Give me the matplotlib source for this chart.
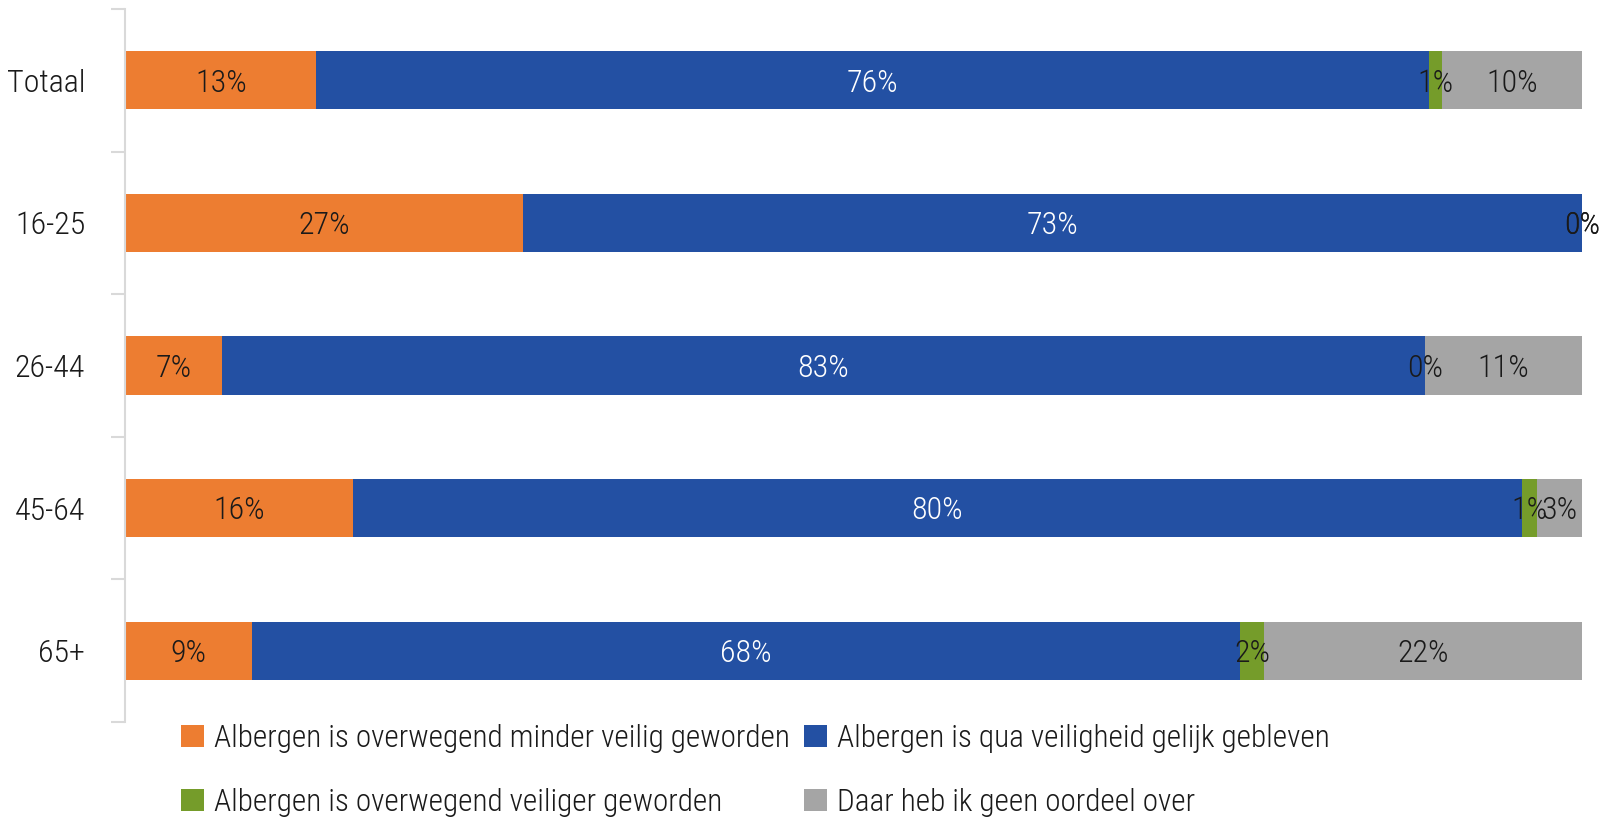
import matplotlib
matplotlib.use("Agg")
import matplotlib.pyplot as plt
from matplotlib import font_manager as fm
from matplotlib.patches import Patch

# ---------------- data ----------------
categories = ["Totaal", "16-25", "26-44", "45-64", "65+"]
minder_veilig = [13.1, 27.3, 6.6, 15.6, 8.7]
gelijk = [76.4, 72.7, 82.6, 80.3, 67.8]
veiliger = [0.9, 0.0, 0.0, 1.0, 1.7]
geen_oordeel = [9.6, 0.0, 10.8, 3.1, 21.8]
series_names = [
    "Albergen is overwegend minder veilig geworden",
    "Albergen is qua veiligheid gelijk gebleven",
    "Albergen is overwegend veiliger geworden",
    "Daar heb ik geen oordeel over",
]
colors = ["#ED7D31", "#2350A3", "#759C2A", "#A5A5A5"]
label_colors = ["#1a1a1a", "white", "#1a1a1a", "#1a1a1a"]

# ---------------- font ----------------
def pick_font():
    files = [f.fname for f in fm.fontManager.ttflist]
    prefs = [
        ("opensans", "condensed", "light"),
        ("opensans", "condensed", ""),
        ("roboto", "condensed", "light"),
        ("roboto", "condensed", ""),
        ("liberationsansnarrow-regular", "", ""),
        ("liberationsansnarrow", "", ""),
        ("dejavusanscondensed.ttf", "", ""),
    ]
    for a, b, c in prefs:
        for fn in files:
            base = fn.lower().replace(" ", "").replace("_", "").split("/")[-1]
            if a in base and b in base and c in base and "italic" not in base and "bold" not in base:
                return fn
    return None

fpath = pick_font()
FS = 23
if fpath:
    def fp(size=FS):
        return fm.FontProperties(fname=fpath, size=size)
else:
    def fp(size=FS):
        return fm.FontProperties(family=["Liberation Sans Narrow", "DejaVu Sans"], size=size)

# ---------------- figure ----------------
W, H = 1615, 824
fig = plt.figure(figsize=(W / 100, H / 100), dpi=100)
ax = fig.add_axes([125.5 / W, 1 - 722 / H, (1582 - 125.5) / W, (722 - 9) / H])

series = [minder_veilig, gelijk, veiliger, geen_oordeel]
ypos = list(range(len(categories)))
left = [0.0] * len(categories)
bar_h = 0.407
for vals, col, lc in zip(series, colors, label_colors):
    ax.barh(ypos, vals, left=left, height=bar_h, color=col, edgecolor="none")
    for y, l, v in zip(ypos, left, vals):
        ax.text(l + v / 2, y + 0.02, f"{v:.0f}%", ha="center", va="center",
                color=lc, fontproperties=fp())
    left = [l + v for l, v in zip(left, vals)]

ax.set_xlim(0, 100)
ax.set_ylim(len(categories) - 0.5, -0.5)
ax.set_xticks([])
for s in ["top", "right", "bottom"]:
    ax.spines[s].set_visible(False)
ax.spines["left"].set_color("#d9d9d9")
ax.spines["left"].set_linewidth(1.5)

ax.set_yticks(ypos)
ax.set_yticklabels(categories)
for t in ax.get_yticklabels():
    t.set_fontproperties(fp())
    t.set_color("#1a1a1a")
ax.tick_params(axis="y", which="major", length=0, pad=29)
ax.set_yticks([i - 0.5 for i in range(len(categories) + 1)], minor=True)
ax.tick_params(axis="y", which="minor", length=10, width=1.5, color="#d9d9d9", direction="out")

handles = [Patch(facecolor=c, edgecolor="none") for c in colors]
order = [0, 2, 1, 3]
leg = fig.legend([handles[i] for i in order], [series_names[i] for i in order],
                 loc="upper left", bbox_to_anchor=(181 / W, 1 - 724 / H), ncol=2,
                 frameon=False, prop=fp(22.5), handlelength=0.74, handleheight=0.74,
                 handletextpad=0.32, columnspacing=0.45, labelspacing=1.12,
                 borderpad=0, borderaxespad=0)
for t in leg.get_texts():
    t.set_color("#1a1a1a")

fig.savefig("out.png", dpi=100)
